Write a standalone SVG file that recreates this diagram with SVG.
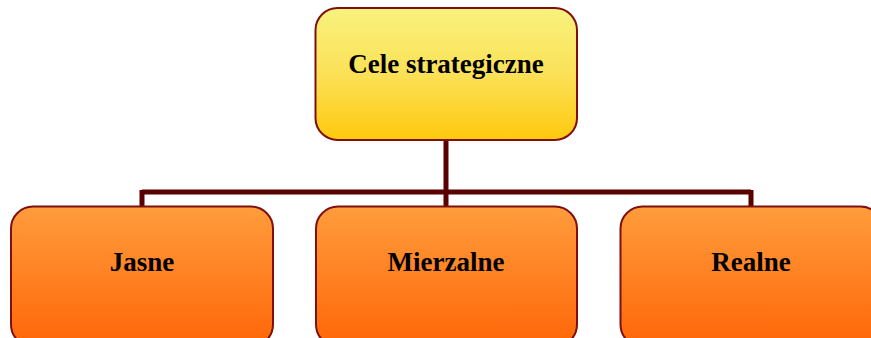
<svg xmlns="http://www.w3.org/2000/svg" width="871" height="338" viewBox="0 0 871 338">
<defs>
<linearGradient id="gy" x1="0" y1="0" x2="0" y2="1">
<stop offset="0" stop-color="#f8f27e"/>
<stop offset="0.5" stop-color="#fbe157"/>
<stop offset="1" stop-color="#ffc90e"/>
</linearGradient>
<linearGradient id="go" x1="0" y1="0" x2="0" y2="1">
<stop offset="0" stop-color="#ff9c3c"/>
<stop offset="1" stop-color="#ff6608"/>
</linearGradient>
</defs>
<style>
.box{stroke:#7f1010;stroke-width:2}
.lbl{font-family:"Liberation Serif",serif;font-weight:bold;font-size:27px;fill:#000;text-anchor:middle}
.con{fill:none;stroke:#5a0000;stroke-width:5}
</style>
<g id="connectors">
<path class="con" d="M446 140 V192 M142 192 H751 M142 190 V207 M446 190 V207 M751 190 V207"/>
</g>
<g id="n-cele">
<rect class="box" x="315.5" y="8" width="261.5" height="132" rx="22" fill="url(#gy)"/>
<text class="lbl" x="446" y="73">Cele strategiczne</text>
</g>
<g id="n-jasne">
<rect class="box" x="11" y="206.5" width="262" height="140" rx="22" fill="url(#go)"/>
<text class="lbl" x="142" y="271">Jasne</text>
</g>
<g id="n-mierzalne">
<rect class="box" x="316" y="206.5" width="261" height="140" rx="22" fill="url(#go)"/>
<text class="lbl" x="446" y="271">Mierzalne</text>
</g>
<g id="n-realne">
<rect class="box" x="620.5" y="206.5" width="262" height="140" rx="22" fill="url(#go)"/>
<text class="lbl" x="751" y="271">Realne</text>
</g>
</svg>
